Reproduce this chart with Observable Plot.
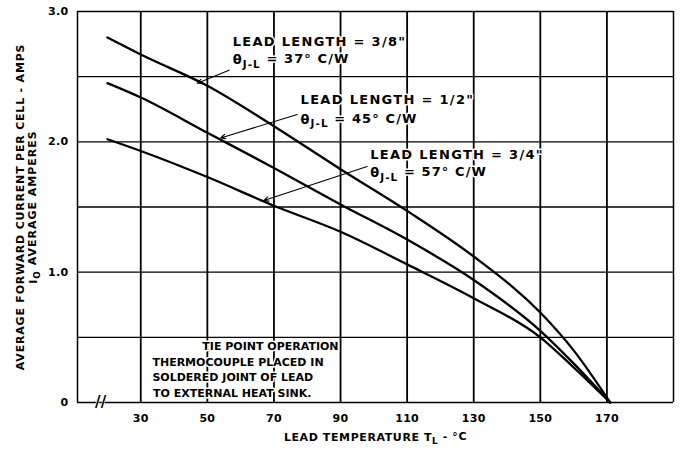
<!DOCTYPE html>
<html><head><meta charset="utf-8">
<script src="https://cdn.jsdelivr.net/npm/d3@7"></script>
<script src="https://cdn.jsdelivr.net/npm/@observablehq/plot@0.6"></script>
<style>
  html,body{margin:0;padding:0;background:#fff}
  svg{display:block}
</style>
</head><body><div id="chart"></div>
<script>
// ---- data ----
const temps   = [20, 30, 50, 70, 90, 110, 130, 150, 160, 171];
const lead38  = [2.80, 2.67, 2.43, 2.12, 1.79, 1.47, 1.12, 0.69, 0.40, 0.0];
const lead12  = [2.45, 2.34, 2.07, 1.80, 1.52, 1.25, 0.94, 0.55, 0.30, 0.0];
const lead34  = [2.02, 1.93, 1.73, 1.51, 1.31, 1.06, 0.80, 0.50, 0.27, 0.0];
const seriesNames = ['3/8"', '1/2"', '3/4"'];

const xTicks = [30, 50, 70, 90, 110, 130, 150, 170];
const xTickLabels = ["30", "50", "70", "90", "110", "130", "150", "170"];
const yTicks = [0, 1, 2, 3];
const yTickLabels = ["0", "1.0", "2.0", "3.0"];
const xGrid = [30, 50, 70, 90, 110, 130, 150, 170];
const yGrid = [0, 0.5, 1, 1.5, 2, 2.5, 3];
const xFrame = [11, 190];

const labelLine1 = ['LEAD LENGTH = 3/8"', 'LEAD LENGTH = 1/2"', 'LEAD LENGTH = 3/4"'];
const labelLine2 = ['θ_J-L_ = 37° C/W', 'θ_J-L_ = 45° C/W', 'θ_J-L_ = 57° C/W'];
const labelX  = [57.6, 78, 98.9];
const labelY1 = [2.77, 2.32, 1.90];
const labelY2 = [2.63, 2.17, 1.76];
const leaderFromX = [56.5, 77, 98];
const leaderFromY = [2.55, 2.21, 1.81];
const leaderToX   = [47, 54, 67];
const leaderToY   = [2.45, 2.03, 1.55];

const noteLines = ["TIE POINT OPERATION", "THERMOCOUPLE PLACED IN", "SOLDERED JOINT OF LEAD", "TO EXTERNAL HEAT SINK."];
const noteX = [48.5, 33.5, 33.5, 33.7];
const noteY = [0.43, 0.305, 0.19, 0.067];

const breakX = [18];
const yTitle1 = "AVERAGE FORWARD CURRENT PER CELL - AMPS";
const yTitle2 = "I_O_ AVERAGE AMPERES";
const xTitle  = "LEAD TEMPERATURE T_L_ - °C";

// ---- tables built from the arrays ----
const allSeries = [lead38, lead12, lead34];
const lineData = allSeries.flatMap((vals, s) => temps.map((t, i) => ({series: seriesNames[s], t, v: vals[i]})));
const labels = labelX.map((x, i) => ({x, y1: labelY1[i], y2: labelY2[i], l1: labelLine1[i], l2: labelLine2[i]}));
const leaders = leaderFromX.map((x, i) => ({x1: x, y1: leaderFromY[i], x2: leaderToX[i], y2: leaderToY[i]}));
const notes = noteLines.map((s, i) => ({s, x: noteX[i], y: noteY[i]}));

const FONT = "DejaVu Sans";

const chart = Plot.plot({
  width: 681, height: 452,
  marginLeft: 77, marginRight: 8, marginTop: 11, marginBottom: 50,
  x: {domain: [11, 190]},
  y: {domain: [0, 3]},
  style: {fontFamily: FONT, fontWeight: "bold", background: "#fff", color: "#000"},
  marks: [
    Plot.ruleY(yGrid, {stroke: "#000", strokeWidth: 1.3}),
    Plot.ruleX(xGrid, {stroke: "#000", strokeWidth: 1.8}),
    Plot.ruleX(xFrame, {stroke: "#000", strokeWidth: 1.5}),
    Plot.line(lineData, {x: "t", y: "v", z: "series", stroke: "#000", strokeWidth: 2.3, curve: "monotone-x"}),
    Plot.arrow(leaders, {x1: "x1", y1: "y1", x2: "x2", y2: "y2", stroke: "#000", strokeWidth: 1.1, headLength: 7, headAngle: 50}),
    Plot.text(labels, {x: "x", y: "y1", text: "l1", textAnchor: "start", fontSize: 13, fill: "#000", stroke: "#fff", strokeWidth: 3, paintOrder: "stroke"}),
    Plot.text(labels, {x: "x", y: "y2", text: "l2", textAnchor: "start", fontSize: 13, fill: "#000", stroke: "#fff", strokeWidth: 3, paintOrder: "stroke"}),
    Plot.text(notes, {x: "x", y: "y", text: "s", textAnchor: "start", fontSize: 11, fill: "#000", stroke: "#fff", strokeWidth: 3, paintOrder: "stroke"}),
    Plot.text(breakX, {x: d => d, y: () => 0, text: () => "//", fontSize: 15, fill: "#000", stroke: "#fff", strokeWidth: 1}),
    Plot.axisX({ticks: xTicks, tickFormat: d => xTickLabels[xTicks.indexOf(d)], tickSize: 0, tickPadding: 12, fontSize: 11, label: null}),
    Plot.axisY({ticks: yTicks, tickFormat: d => yTickLabels[yTicks.indexOf(d)], tickSize: 0, tickPadding: 9, fontSize: 11, label: null}),
    Plot.text([yTitle1], {frameAnchor: "left", textAnchor: "middle", dx: -57, rotate: -90, fontSize: 11, fill: "#000"}),
    Plot.text([yTitle2], {frameAnchor: "left", textAnchor: "middle", dx: -44, rotate: -90, fontSize: 11, fill: "#000"}),
    Plot.text([xTitle], {frameAnchor: "bottom", textAnchor: "middle", dy: 38, fontSize: 11, fill: "#000"})
  ]
});

// letter spacing for the lettering style
chart.querySelectorAll("text").forEach(t => {
  const s = t.textContent;
  let ls = "0.3px";
  if (s.startsWith("LEAD LENGTH")) ls = "1.3px";
  if (s.startsWith("θ")) ls = "1.1px";
  if (s === yTitle1) ls = "0.8px";
  if (s === yTitle2) ls = "1px";
  if (s === xTitle) ls = "0.6px";
  if (noteLines.includes(s)) ls = "0px";
  t.setAttribute("letter-spacing", ls);
  // subscripts marked with underscores
  if (s.includes("_")) {
    const parts = s.split("_");
    t.textContent = "";
    parts.forEach((p, i) => {
      const ts = document.createElementNS("http://www.w3.org/2000/svg", "tspan");
      ts.textContent = p;
      if (i % 2 === 1) { ts.setAttribute("dy", "0.35em"); ts.setAttribute("font-size", "80%"); }
      else if (i > 0) { ts.setAttribute("dy", "-0.35em"); }
      t.appendChild(ts);
    });
  }
});

document.getElementById("chart").appendChild(chart);
</script>
</body></html>
